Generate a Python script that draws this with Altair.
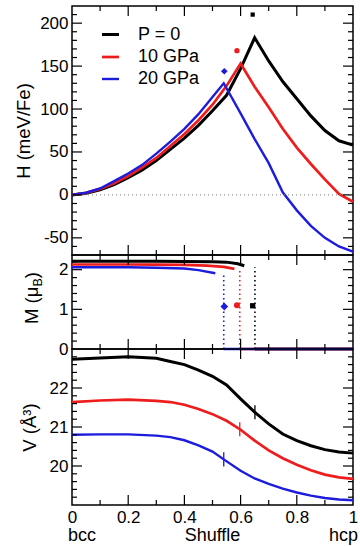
import altair as alt
import pandas as pd

FONT = "Liberation Sans"
TICK_COLOR = "#000000"

# pressure series
series = ["P = 0", "10 GPa", "20 GPa"]
colors = ["#000000", "#ee1c1c", "#1c1cdd"]
line_widths = [3.0, 2.4, 1.6]

# enthalpy H (meV/Fe) along the bcc -> hcp shuffle coordinate
h_x_p0 = [0, .05, .1, .15, .2, .25, .3, .35, .4, .45, .5, .55, .6, .65, .7, .75, .8, .85, .9, .95, 1.0]
h_p0 = [0, 2, 6, 12, 20, 29, 40, 53, 66, 81, 98, 116, 147, 183, 156, 132, 112, 92, 75, 63, 58]
h_x_10 = [0, .05, .1, .15, .2, .25, .3, .35, .4, .45, .5, .55, .6, .65, .7, .75, .8, .85, .9, .95, 1.0]
h_10 = [0, 2.3, 7, 13.5, 22, 32, 43, 57, 71, 87, 105, 127, 153, 126, 102, 77, 55, 36, 18, 1, -8]
h_x_20 = [0, .05, .1, .15, .2, .25, .3, .35, .4, .45, .5, .54, .6, .65, .7, .75, .8, .85, .9, .95, 1.0]
h_20 = [0, 2.5, 7.5, 16, 25, 35, 48, 62, 77, 94, 114, 130, 95, 65, 37, 3, -18, -36, -50, -60, -66]

# magnetic moment M (mu_B): magnetic branch, then the non-magnetic branch at zero
m_x_p0 = [0, .1, .2, .3, .4, .5, .55, .59, .613]
m_p0 = [2.21, 2.21, 2.215, 2.21, 2.205, 2.2, 2.19, 2.15, 2.10]
m_x_10 = [0, .1, .2, .3, .4, .48, .54, .578]
m_10 = [2.13, 2.13, 2.13, 2.125, 2.12, 2.10, 2.07, 2.02]
m_x_20 = [0, .1, .2, .3, .4, .45, .51]
m_20 = [2.06, 2.06, 2.06, 2.05, 2.03, 1.99, 1.91]
nm_start = [0.651, 0.597, 0.540]

# transition points (dotted drop of the moment)
trans_x = [0.651, 0.597, 0.540]
trans_top = [2.06, 2.0, 1.88]

# saddle-point markers
mark_x = [0.643, 0.587, 0.542]
mark_h = [210, 168, 144]
mark_m = [1.09, 1.10, 1.07]

# volume V (A^3)
v_x = [0, .1, .2, .3, .35, .4, .45, .5, .55, .6, .65, .7, .75, .8, .85, .9, .95, 1.0]
v_p0 = [22.74, 22.77, 22.80, 22.76, 22.68, 22.60, 22.46, 22.30, 22.08, 21.72, 21.38, 21.08, 20.82, 20.65, 20.52, 20.42, 20.36, 20.33]
v_10 = [21.64, 21.68, 21.70, 21.67, 21.64, 21.57, 21.46, 21.33, 21.16, 20.93, 20.65, 20.40, 20.20, 20.03, 19.89, 19.78, 19.71, 19.67]
v_x_20 = [0, .1, .2, .3, .35, .4, .45, .5, .54, .6, .65, .7, .75, .8, .85, .9, .95, 1.0]
v_20 = [20.80, 20.81, 20.81, 20.78, 20.74, 20.66, 20.53, 20.37, 20.17, 19.88, 19.68, 19.54, 19.42, 19.32, 19.24, 19.18, 19.14, 19.12]
v_mark = [21.38, 20.94, 20.17]
v_half = 0.18

x_tick_labels = [0, 0.2, 0.4, 0.6, 0.8, 1]
end_words = ["bcc", "hcp"]

W = 281
H_TOP, H_MID, H_BOT = 249, 94, 156
TICK_MAJOR, TICK_MINOR = 10, 5

xs = alt.Scale(domain=[0, 1], nice=False, zero=False)
ys_h = alt.Scale(domain=[-70, 220], nice=False, zero=False)
ys_m = alt.Scale(domain=[0, 2.37], nice=False, zero=False)
ys_v = alt.Scale(domain=[19, 23], nice=False, zero=False)

col_scale = alt.Scale(domain=series, range=colors)
sw_scale = alt.Scale(domain=series, range=line_widths)


def table(xsets, ysets, segs=None):
    rows = []
    for i, (xv, yv) in enumerate(zip(xsets, ysets)):
        for a, b in zip(xv, yv):
            rows.append({"series": series[i], "x": a, "y": b,
                         "seg": (segs[i] if segs else series[i])})
    return pd.DataFrame(rows)


def y_axis(values, title, title_pad, label_expr=None):
    kw = dict(values=values, title=title, ticks=False, tickSize=0, domain=False, grid=False,
              labelFontSize=17, labelPadding=4, titleFontSize=18.5, titlePadding=title_pad,
              labelFlush=False, labelOverlap=False, titleFontWeight="normal")
    if label_expr:
        kw["labelExpr"] = label_expr
    return alt.Axis(**kw)


def frame_ticks(xa, ys_dom, ys, ya, h, y_major, y_minor):
    """Inward ticks on all four sides of a panel, each a two-point path in data units."""
    y0, y1 = ys_dom
    x_major = [i / 5 for i in range(1, 5)]
    x_minor = [i / 10 for i in range(1, 10, 2)]
    rows = []

    def seg(xa_, ya_, xb, yb):
        k = len(rows)
        rows.append({"x": xa_, "y": ya_, "k": k, "o": 0})
        rows.append({"x": xb, "y": yb, "k": k, "o": 1})

    for vals, ln in ((x_major, TICK_MAJOR), (x_minor, TICK_MINOR)):
        dy = ln * (y1 - y0) / h
        for v in vals:
            seg(v, y1, v, y1 - dy)
            seg(v, y0, v, y0 + dy)
    for vals, ln in ((y_major, TICK_MAJOR), (y_minor, TICK_MINOR)):
        dx = ln / W
        for v in vals:
            seg(0, v, dx, v)
            seg(1 - dx, v, 1, v)
    return alt.Chart(pd.DataFrame(rows)).mark_line(color=TICK_COLOR, strokeWidth=1.2).encode(
        x=alt.X("x:Q", scale=xs, axis=xa),
        y=alt.Y("y:Q", scale=ys, axis=ya),
        detail="k:N",
        order="o:Q",
    )


def markers(xv, yv, ys, ya, xa, shapes, sizes):
    out = []
    for i in range(3):
        d = pd.DataFrame({"x": [xv[i]], "y": [yv[i]]})
        out.append(alt.Chart(d).mark_point(filled=True, opacity=1, color=colors[i],
                                           shape=shapes[i], size=sizes[i]).encode(
            x=alt.X("x:Q", scale=xs, axis=xa),
            y=alt.Y("y:Q", scale=ys, axis=ya),
        ))
    return out


# ---------- enthalpy panel ----------
hx_axis = None
hy_axis = y_axis([-50, 0, 50, 100, 150, 200], "H (meV/Fe)", 6,
                 "datum.value < 0 ? '-' + abs(datum.value) : '' + datum.value")
legend = alt.Legend(title=None, orient="none", legendX=28, legendY=18, symbolType="stroke",
                    symbolSize=290, labelFontSize=18, labelFont=FONT, rowPadding=3,
                    labelOffset=17, padding=0)
h_df = table([h_x_p0, h_x_10, h_x_20], [h_p0, h_10, h_20])
h_lines = alt.Chart(h_df).mark_line(strokeJoin="miter").encode(
    x=alt.X("x:Q", scale=xs, axis=hx_axis),
    y=alt.Y("y:Q", scale=ys_h, axis=hy_axis),
    color=alt.Color("series:N", scale=col_scale, legend=legend),
    strokeWidth=alt.StrokeWidth("series:N", scale=sw_scale, legend=legend),
)
zero_line = alt.Chart(pd.DataFrame({"y": [0]})).mark_rule(
    color="#777777", strokeWidth=1, strokeDash=[1, 3]).encode(y=alt.Y("y:Q", scale=ys_h, axis=hy_axis))
top = alt.layer(
    h_lines, zero_line,
    frame_ticks(hx_axis, (-70, 220), ys_h, hy_axis, H_TOP, [-50, 0, 50, 100, 150, 200],
                [v for v in range(-60, 220, 10) if v % 50]),
    *markers(mark_x, mark_h, ys_h, hy_axis, hx_axis, ["square", "circle", "diamond"], [18, 28, 45]),
).properties(width=W, height=H_TOP)

# ---------- moment panel ----------
mx_axis = None
my_axis = y_axis([0, 1, 2], None, 0)
m_df = pd.concat([
    table([m_x_p0, m_x_10, m_x_20], [m_p0, m_10, m_20], ["fm0", "fm1", "fm2"]),
    table([[s, 1.0] for s in nm_start], [[0, 0]] * 3, ["nm0", "nm1", "nm2"]),
])
m_lines = alt.Chart(m_df).mark_line().encode(
    x=alt.X("x:Q", scale=xs, axis=mx_axis),
    y=alt.Y("y:Q", scale=ys_m, axis=my_axis),
    color=alt.Color("series:N", scale=col_scale, legend=None),
    strokeWidth=alt.StrokeWidth("series:N", scale=sw_scale, legend=None),
    detail="seg:N",
)
drop_df = pd.DataFrame({"series": series, "x": trans_x, "y": [0, 0, 0], "hi": trans_top})
drops = alt.Chart(drop_df).mark_rule(strokeWidth=1.6, strokeDash=[1.5, 3]).encode(
    x=alt.X("x:Q", scale=xs, axis=mx_axis),
    y=alt.Y("y:Q", scale=ys_m, axis=my_axis),
    y2="hi:Q",
    color=alt.Color("series:N", scale=col_scale, legend=None),
)
title_parts = [("M (μ", 18.5, -34, 69), ("B", 12.5, -30, 31.5), (")", 18.5, -34, 23.3)]
m_title = [
    alt.Chart(pd.DataFrame({"t": [txt]})).mark_text(
        angle=270, align="left", baseline="alphabetic", font=FONT, fontSize=fs, color="black"
    ).encode(text="t:N", x=alt.value(px), y=alt.value(py))
    for txt, fs, px, py in title_parts
]
mid = alt.layer(
    m_lines, drops,
    frame_ticks(mx_axis, (0, 2.37), ys_m, my_axis, H_MID, [1, 2],
                [0.2, 0.4, 0.6, 0.8, 1.2, 1.4, 1.6, 1.8, 2.2]),
    *markers(mark_x, mark_m, ys_m, my_axis, mx_axis, ["square", "circle", "diamond"], [28, 36, 60]),
    *m_title,
).properties(width=W, height=H_MID)

# ---------- volume panel ----------
vx_axis = alt.Axis(values=x_tick_labels, title=None, ticks=False, tickSize=0, domain=False, grid=False,
                   labelFontSize=17, labelPadding=4, labelFlush=False, labelOverlap=False,
                   labelExpr="datum.value == 0 ? '0' : datum.value == 1 ? '1' : format(datum.value, '.1f')")
vy_axis = y_axis([20, 21, 22], "V (Å³)", 10)
v_df = table([v_x, v_x, v_x_20], [v_p0, v_10, v_20])
v_lines = alt.Chart(v_df).mark_line().encode(
    x=alt.X("x:Q", scale=xs, axis=vx_axis),
    y=alt.Y("y:Q", scale=ys_v, axis=vy_axis),
    color=alt.Color("series:N", scale=col_scale, legend=None),
    strokeWidth=alt.StrokeWidth("series:N", scale=sw_scale, legend=None),
)
vt_df = pd.DataFrame({"series": series, "x": trans_x,
                      "y": [v - v_half for v in v_mark], "hi": [v + v_half for v in v_mark]})
v_ticks = alt.Chart(vt_df).mark_rule(strokeWidth=1.3).encode(
    x=alt.X("x:Q", scale=xs, axis=vx_axis),
    y=alt.Y("y:Q", scale=ys_v, axis=vy_axis),
    y2="hi:Q",
    color=alt.Color("series:N", scale=col_scale, legend=None),
)
word_df = pd.DataFrame({"x": [0, 1], "t": end_words})
bcc = alt.Chart(word_df.iloc[[0]]).mark_text(align="left", baseline="alphabetic", dx=-4,
                                             font=FONT, fontSize=18).encode(
    x=alt.X("x:Q", scale=xs, axis=vx_axis), y=alt.value(H_BOT + 36), text="t:N")
hcp = alt.Chart(word_df.iloc[[1]]).mark_text(align="right", baseline="alphabetic", dx=5,
                                             font=FONT, fontSize=18).encode(
    x=alt.X("x:Q", scale=xs, axis=vx_axis), y=alt.value(H_BOT + 36), text="t:N")
shuffle = alt.Chart(pd.DataFrame({"x": [0.5], "t": ["Shuffle"]})).mark_text(
    align="center", baseline="alphabetic", font=FONT, fontSize=18).encode(
    x=alt.X("x:Q", scale=xs, axis=vx_axis), y=alt.value(H_BOT + 36), text="t:N")
bot = alt.layer(
    v_lines, v_ticks,
    frame_ticks(vx_axis, (19, 23), ys_v, vy_axis, H_BOT, [20, 21, 22],
                [v / 10 for v in range(192, 230, 2) if v % 10]),
    bcc, shuffle, hcp,
).properties(width=W, height=H_BOT)

chart = alt.vconcat(top, mid, bot, spacing=0, bounds="flush").resolve_scale(
    color="independent", strokeWidth="independent"
).properties(
    padding={"left": 13, "top": 2, "right": 0, "bottom": 0}
).configure_view(stroke="black", strokeWidth=1.5).configure_axis(
    labelFont=FONT, titleFont=FONT, labelColor="black", titleColor="black"
)

chart.save("out.html", embed_options={"renderer": "svg", "actions": False})
